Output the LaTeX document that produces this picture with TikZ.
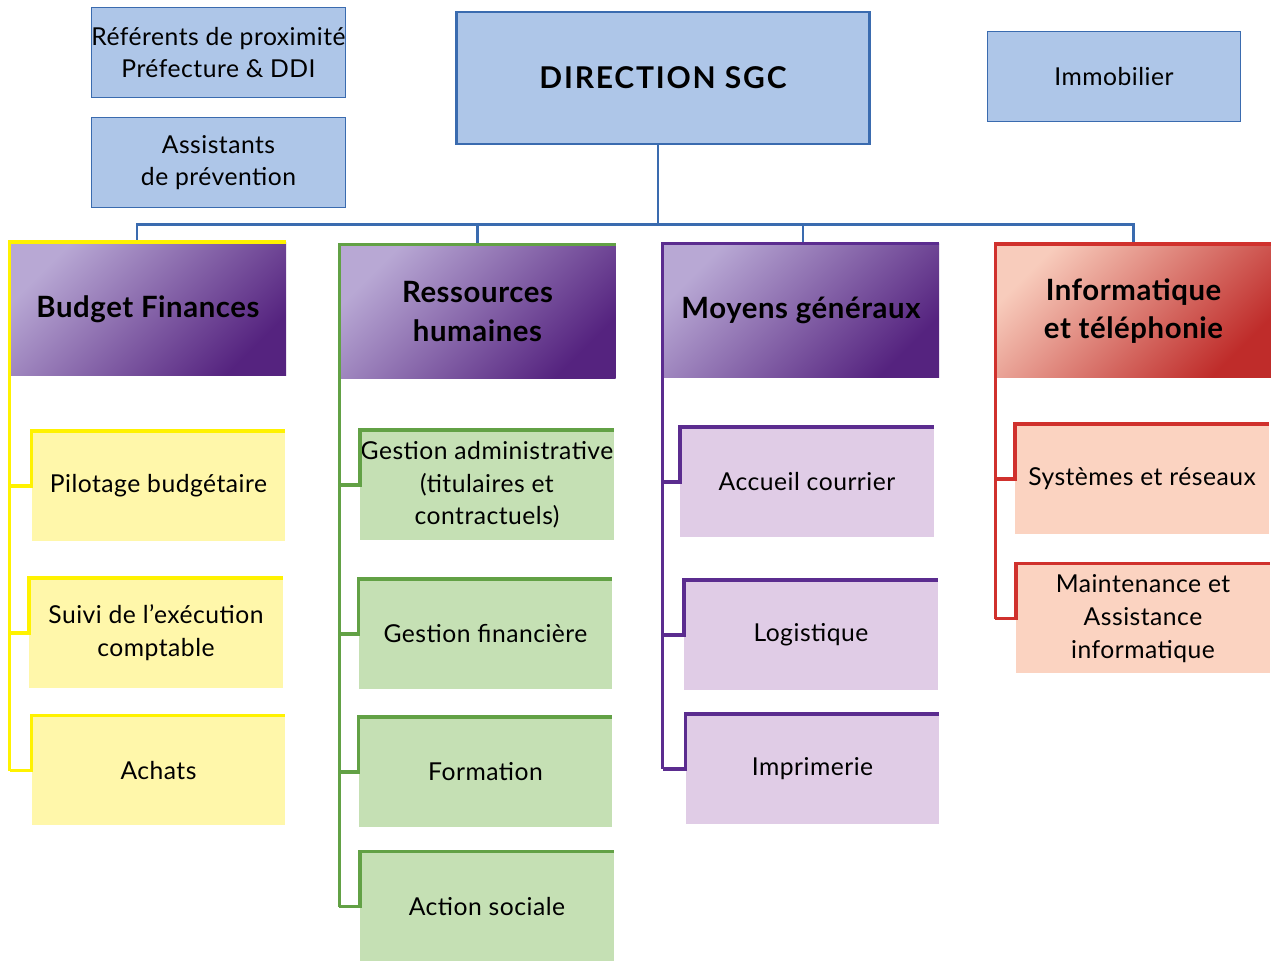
\documentclass[tikz,border=0pt]{standalone}
\usepackage{fontspec}
\setmainfont{Lato}
\usetikzlibrary{positioning, calc}

\definecolor{bluefill}{HTML}{AEC6E8}
\definecolor{blueline}{HTML}{3A6BAF}
\definecolor{yelline}{HTML}{FFF200}
\definecolor{yelfill}{HTML}{FFF7AA}
\definecolor{grnline}{HTML}{62A145}
\definecolor{grnfill}{HTML}{C5E0B4}
\definecolor{purline}{HTML}{5B2C8F}
\definecolor{purfill}{HTML}{E0CCE6}
\definecolor{redline}{HTML}{D0312D}
\definecolor{redfill}{HTML}{FBD3C1}
\definecolor{purlight}{HTML}{B8A8D4}
\definecolor{purdark}{HTML}{55237F}
\definecolor{redlight}{HTML}{F8CCBC}
\definecolor{reddark}{HTML}{BF2C2A}

\begin{document}
\begin{tikzpicture}[x=0.75pt, y=-0.75pt]
    	\tikzstyle{txt}=[font=\fontsize{18.5}{24.5}\selectfont\addfontfeature{LetterSpace=2}, align=center, inner sep=0pt];
    	\tikzstyle{topbox}=[txt, fill=bluefill, draw=blueline, line width=0.6pt, minimum width=190pt, minimum height=67pt];
    	\tikzstyle{head}=[font=\fontsize{22}{29}\selectfont\bfseries\addfontfeature{LetterSpace=2}, align=center, inner sep=0pt, minimum width=207pt, minimum height=100pt, shading angle=45];
    	\tikzstyle{leaf}=[txt, minimum width=190pt, minimum height=82pt];
    	\tikzstyle{bus}=[draw=blueline, line width=2.2pt];
    	\tikzstyle{branch}=[line width=2.4pt, line join=miter];

    	\useasboundingbox (0, 0) rectangle (1271, 961);

   	% top row
   	\node[topbox] (ref) at (218.5, 52.5) {Référents de proximité\\Préfecture \& DDI};
   	\node[topbox] (ass) at (218.5, 162.5) {Assistants\\de prévention};
   	\node[topbox] (imm) at (1114, 76.5) {Immobilier};
   	\node[fill=bluefill, draw=blueline, line width=2.2pt, minimum width=310pt, minimum height=99pt,
   	      font=\fontsize{22.5}{26}\selectfont\bfseries\addfontfeature{LetterSpace=6}] (dir) at (663, 78) {DIRECTION SGC};

   	% services
   	\node[head, top color=purlight, bottom color=purdark, shading angle=45] (bf) at (148, 309) {Budget Finances};
   	\node[head, top color=purlight, bottom color=purdark, shading angle=45] (rh) at (477.5, 311.5) {Ressources\\humaines};
   	\node[head, top color=purlight, bottom color=purdark, shading angle=45] (mg) at (801, 310.5) {Moyens généraux};
   	\node[head, top color=redlight, bottom color=reddark, shading angle=45] (it) at (1133.5, 311) {Informatique\\et téléphonie};

   	% Budget Finances
   	\node[leaf, fill=yelfill] (pil) at (158.5, 486) {Pilotage budgétaire};
   	\node[leaf, fill=yelfill] (suiv) at (156, 633) {Suivi de l’exécution\\comptable};
   	\node[leaf, fill=yelfill] (ach) at (158.5, 770.5) {Achats};

   	% Ressources humaines
   	\node[leaf, fill=grnfill] (gadm) at (487, 485) {Gestion administrative\\(titulaires et\\contractuels)};
   	\node[leaf, fill=grnfill] (gfin) at (485.5, 634) {Gestion financière};
   	\node[leaf, fill=grnfill] (form) at (485.5, 772) {Formation};
   	\node[leaf, fill=grnfill] (act) at (487, 906.5) {Action sociale};

   	% Moyens generaux
   	\node[leaf, fill=purfill] (acc) at (807, 482) {Accueil courrier};
   	\node[leaf, fill=purfill] (log) at (811, 635) {Logistique};
   	\node[leaf, fill=purfill] (imp) at (812.5, 769) {Imprimerie};

   	% Informatique
   	\node[leaf, fill=redfill] (sys) at (1142, 479) {Systèmes et réseaux};
   	\node[leaf, fill=redfill] (mnt) at (1143, 618.5) {Maintenance et\\Assistance\\informatique};

   	% blue bus
   	\coordinate (d0) at ($(dir.south) + (-5, 0)$);
   	\coordinate (b0) at ($(d0) + (0, 79)$);
   	\draw[bus] (d0) -- (b0);
   	\draw[bus] (b0) -| ($(bf.north) + (-11, 0)$);
   	\draw[bus] (b0) -| (rh.north);
   	\draw[bus] (b0) -| ($(mg.north) + (2, 0)$);
   	\draw[bus] (b0) -| (it.north);

   	% branches
   	\foreach \h/\c/\last/\kids in {bf/yelline/ach/{pil,suiv,ach}, rh/grnline/act/{gadm,gfin,form,act},
   	                               mg/purline/imp/{acc,log,imp}, it/redline/mnt/{sys,mnt}} {
   	    \draw[branch, draw=\c] (\h.north east) -- (\h.north west) -- (\h.north west |- \last.west);
   	    \foreach \k in \kids {
   	        \draw[branch, draw=\c] (\h.north west |- \k.west) -- (\k.west) -- (\k.north west) -- (\k.north east);
   	    }
   	}
\end{tikzpicture}
\end{document}
